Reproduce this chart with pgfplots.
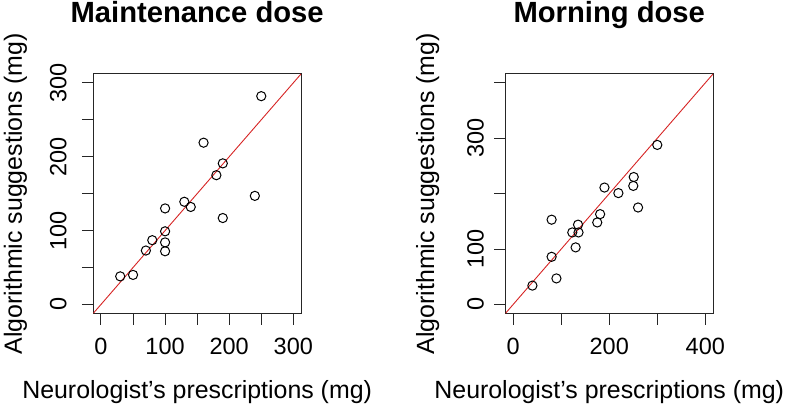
\documentclass[border=0pt]{standalone}
\usepackage{fontspec}
\setmainfont{Liberation Sans}
\usepackage{pgfplots}
\pgfplotsset{compat=1.18}
\definecolor{rred}{HTML}{D62424}
\begin{document}
\begin{tikzpicture}[x=1pt,y=1pt]
\pgfplotsset{
  rstyle/.style={
    scale only axis,
    axis line style={line width=1pt, black!85},
    tick style={line width=1pt, black!85},
    tick align=outside,
    major tick length=11.5pt,
    tick pos=left,
    /pgf/number format/assume math mode=true,
    ticklabel style={font=\fontsize{23.5}{28}\selectfont},
    xticklabel style={anchor=center},
    xticklabel shift=22pt,
    yticklabel style={rotate=90, anchor=center},
    title style={font=\fontsize{29.2}{34}\bfseries\selectfont, anchor=base, at={(axis description cs:0.5,1.191)}},
    label style={font=\fontsize{24.9}{29}\selectfont},
    xlabel style={anchor=base, at={(axis description cs:0.5,-0.355)}},
    ylabel style={anchor=center, at={(axis description cs:-0.375,0.5)}, rotate=0},
    clip=true,
  },
  pts/.style={only marks, mark=o, mark size=4.6pt, mark options={line width=1pt, black}},
}
\begin{axis}[rstyle,
  at={(93.3pt,91.7pt)}, anchor=south west,
  width=207.7pt, height=239.3pt,
  xmin=-12, xmax=312, ymin=-12, ymax=312,
  xtick={0,50,...,300}, xticklabels={0,,100,,200,,300},
  ytick={0,50,...,300}, yticklabels={0,,100,,200,,300},
  yticklabel shift=23.5pt,
  title={Maintenance dose},
  xlabel={Neurologist’s prescriptions (mg)},
  ylabel={Algorithmic suggestions (mg)},
]
\addplot[rred, line width=0.9pt] coordinates {(-12,-12) (312,312)};
\addplot[pts] coordinates {
(30,38) (50,40) (70,73) (80,87) (100,72) (100,84) (100,99) (100,130)
(130,139) (140,132) (160,219) (180,175) (190,191) (190,117) (240,147) (250,282)
};
\end{axis}
\begin{axis}[rstyle,
  at={(505.5pt,91.7pt)}, anchor=south west,
  width=207.5pt, height=239.3pt,
  xmin=-16, xmax=416, ymin=-16, ymax=416,
  xtick={0,100,...,400}, xticklabels={0,,200,,400},
  ytick={0,100,...,400}, yticklabels={0,100,,300,},
  yticklabel shift=18.5pt,
  title={Morning dose},
  xlabel={Neurologist’s prescriptions (mg)},
  ylabel={Algorithmic suggestions (mg)},
]
\addplot[rred, line width=0.9pt] coordinates {(-16,-16) (416,416)};
\addplot[pts] coordinates {
(40,34) (80,86) (90,47) (80,153) (130,103) (123,130) (136,130) (135,144)
(175,148) (181,163) (190,211) (219,201) (250,214) (251,230) (260,175) (300,288)
};
\end{axis}
\pgfresetboundingbox
\path (0,0) rectangle (786pt,405pt);
\end{tikzpicture}
\end{document}
